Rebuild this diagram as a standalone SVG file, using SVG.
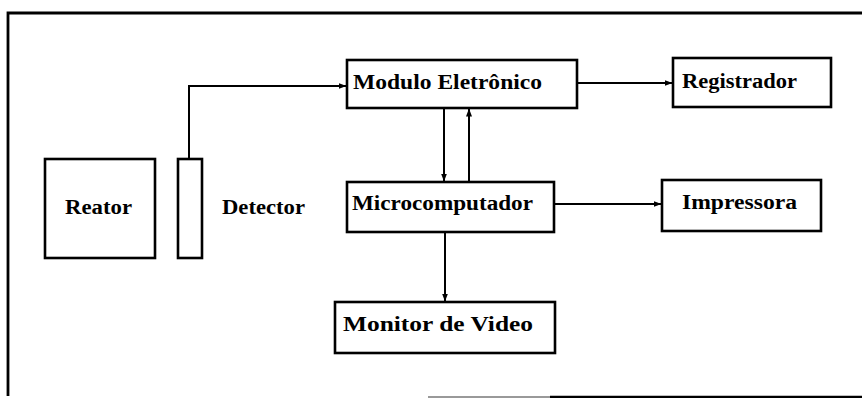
<svg xmlns="http://www.w3.org/2000/svg" width="862" height="398" viewBox="0 0 862 398">
<style>
.box{fill:#fff;stroke:#000;stroke-width:2.6}
.lbl{font-family:"Liberation Serif","DejaVu Serif",serif;font-weight:bold;font-size:20.5px;fill:#000}
.con{fill:none;stroke:#000;stroke-width:2}
.frame{fill:none;stroke:#000;stroke-width:2.8}
</style>
<defs>
<marker id="ah" markerWidth="8" markerHeight="6" refX="7.5" refY="3" orient="auto" markerUnits="userSpaceOnUse">
<path d="M0,0 L8,3 L0,6 Z" fill="#000"/>
</marker>
</defs>
<rect width="862" height="398" fill="#fff"/>
<g id="frame">
<polyline class="frame" points="862,13 8,13 8,396"/>
<line x1="428" y1="397" x2="550" y2="397" stroke="#999" stroke-width="2"/>
<line x1="550" y1="397" x2="862" y2="397" stroke="#000" stroke-width="2.6"/>
</g>
<g id="connectors">
<polyline class="con" points="189,159 189,86 346,86" marker-end="url(#ah)"/>
<line class="con" x1="577" y1="83" x2="672" y2="83" marker-end="url(#ah)"/>
<line class="con" x1="444" y1="108" x2="444" y2="181" marker-end="url(#ah)"/>
<line class="con" x1="469" y1="182" x2="469" y2="109" marker-end="url(#ah)"/>
<line class="con" x1="554" y1="204" x2="661" y2="204" marker-end="url(#ah)"/>
<line class="con" x1="445" y1="232" x2="445" y2="301" marker-end="url(#ah)"/>
</g>
<g id="reator">
<rect class="box" x="45" y="159" width="110" height="99"/>
<text class="lbl" x="65" y="214" textLength="67" lengthAdjust="spacingAndGlyphs">Reator</text>
</g>
<g id="detector">
<rect class="box" x="178" y="159" width="24" height="99"/>
<text class="lbl" x="222" y="214" textLength="83" lengthAdjust="spacingAndGlyphs">Detector</text>
</g>
<g id="modulo">
<rect class="box" x="347" y="60" width="230" height="48"/>
<text class="lbl" x="353" y="89" textLength="189" lengthAdjust="spacingAndGlyphs">Modulo Eletrônico</text>
</g>
<g id="registrador">
<rect class="box" x="673" y="58" width="158" height="49"/>
<text class="lbl" x="682" y="88" textLength="115" lengthAdjust="spacingAndGlyphs">Registrador</text>
</g>
<g id="microcomputador">
<rect class="box" x="347" y="182" width="207" height="50"/>
<text class="lbl" x="352" y="210" textLength="181" lengthAdjust="spacingAndGlyphs">Microcomputador</text>
</g>
<g id="impressora">
<rect class="box" x="662" y="180" width="159" height="51"/>
<text class="lbl" x="682" y="209" textLength="115" lengthAdjust="spacingAndGlyphs">Impressora</text>
</g>
<g id="monitor">
<rect class="box" x="335" y="302" width="220" height="51"/>
<text class="lbl" x="343" y="331" textLength="190" lengthAdjust="spacingAndGlyphs">Monitor de Video</text>
</g>
</svg>
